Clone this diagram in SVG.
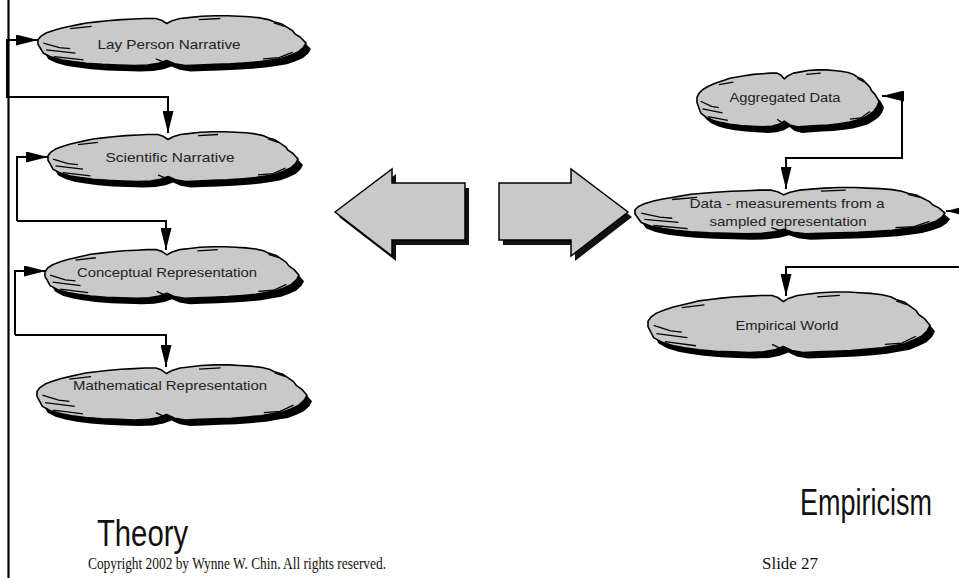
<svg xmlns="http://www.w3.org/2000/svg" xmlns:xlink="http://www.w3.org/1999/xlink" width="959" height="578" viewBox="0 0 959 578">
  <style>
    .lbl { font-family: "Liberation Sans", Arial, sans-serif; font-size: 13px; fill: #222; text-anchor: middle; }
    .title { font-family: "Liberation Sans", Arial, sans-serif; font-size: 36px; fill: #111; }
    .foot { font-family: "Liberation Serif", "Times New Roman", serif; font-size: 16px; fill: #111; }
    .conn { fill: none; stroke: #000; stroke-width: 2; }
    .big { fill: #c9c9c9; stroke: #000; stroke-width: 1.5; stroke-linejoin: miter; }
    .bigshade { fill: #111; }
  </style>
  <defs>
    <!-- ragged cloud outline in a 100x100 box, stretched per node -->
    <path id="cloud-edge" vector-effect="non-scaling-stroke"
      d="M0,46 L1,40 L3,34 L6,29 L9,25 L12,22 L15,19 L18,16 L22,14 L26,12 L31,10 L36,9 L40,8 L44,8 L46,11 L48,17 L50,12 L53,8 L57,6 L61,4 L66,3 L71,3 L75,4 L79,5 L83,7 L86,10 L88,14 L91,18 L93,24 L95,30 L96,36 L98,42 L100,52 L99,60 L97,68 L94,74 L91,79 L87,82 L83,85 L78,87 L72,89 L66,90 L60,91 L55,92 L51,89 L48,83 L45,88 L41,91 L36,92 L30,91 L24,90 L18,88 L13,85 L9,82 L5,77 L2,70 L1,62 L0,54 Z"/>
    <symbol id="cloud" viewBox="0 0 100 100" preserveAspectRatio="none" overflow="visible">
      <use xlink:href="#cloud-edge" fill="#c9c9c9" stroke="#000" stroke-width="1.6" stroke-linejoin="round"/>
      <path vector-effect="non-scaling-stroke" fill="none" stroke="#000" stroke-width="1.3"
        d="M12,26 L20,22 M2,52 L8,60 L12,62 M3,64 L14,70 M6,76 L17,82 M44,80 L49,90 M84,80 L90,78 L95,68 M88,16 L92,22 M60,10 L68,8"/>
    </symbol>
    <symbol id="cloud-shade" viewBox="0 0 100 100" preserveAspectRatio="none" overflow="visible">
      <use xlink:href="#cloud-edge" fill="#000"/>
    </symbol>
    <marker id="head" markerUnits="userSpaceOnUse" markerWidth="22" markerHeight="11" refX="22" refY="5.5" orient="auto">
      <path d="M0,0 L22,5.5 L0,11 Z" fill="#000"/>
    </marker>
  </defs>

  <!-- connectors -->
  <g id="connectors">
    <line x1="8.5" y1="0" x2="8.5" y2="578" stroke="#000" stroke-width="2.2"/>
    <polyline class="conn" points="36,40 7,40 7,97 168,97 168,133" marker-end="url(#head)"/>
    <line class="conn" x1="7" y1="40" x2="38" y2="40" marker-end="url(#head)"/>
    <polyline class="conn" points="17,221 17,157 48,157" marker-end="url(#head)"/>
    <polyline class="conn" points="17,221 166,221 166,250" marker-end="url(#head)"/>
    <polyline class="conn" points="15,335 15,271 46,271" marker-end="url(#head)"/>
    <polyline class="conn" points="15,335 166,335 166,367" marker-end="url(#head)"/>
    <polyline class="conn" points="786,158 902,158 902,96 882,96" marker-end="url(#head)"/>
    <polyline class="conn" points="902,158 786,158 786,189" marker-end="url(#head)"/>
    <line class="conn" x1="962" y1="211" x2="946" y2="211" marker-end="url(#head)"/>
    <polyline class="conn" points="959,267 786,267 786,296" marker-end="url(#head)"/>
  </g>

  <!-- theory side -->
  <g id="lay-person">
    <use xlink:href="#cloud-shade" x="43" y="20" width="268" height="56"/>
    <use xlink:href="#cloud" x="38" y="14" width="268" height="56"/>
    <text class="lbl" x="169" y="49" textLength="143" lengthAdjust="spacingAndGlyphs">Lay Person Narrative</text>
  </g>
  <g id="scientific">
    <use xlink:href="#cloud-shade" x="53" y="136" width="250" height="56"/>
    <use xlink:href="#cloud" x="48" y="130" width="250" height="56"/>
    <text class="lbl" x="170" y="162" textLength="129" lengthAdjust="spacingAndGlyphs">Scientific Narrative</text>
  </g>
  <g id="conceptual">
    <use xlink:href="#cloud-shade" x="50" y="251" width="254" height="58"/>
    <use xlink:href="#cloud" x="45" y="245" width="254" height="58"/>
    <text class="lbl" x="167" y="277" textLength="180" lengthAdjust="spacingAndGlyphs">Conceptual Representation</text>
  </g>
  <g id="mathematical">
    <use xlink:href="#cloud-shade" x="42" y="369" width="270" height="62"/>
    <use xlink:href="#cloud" x="37" y="363" width="270" height="62"/>
    <text class="lbl" x="170" y="390" textLength="194" lengthAdjust="spacingAndGlyphs">Mathematical  Representation</text>
  </g>

  <!-- central double arrow -->
  <g id="arrow-left">
    <polygon class="bigshade" transform="translate(4,5)" points="335,212 392,169 392,183 465,183 465,240 392,240 392,256"/>
    <polygon class="big" points="335,212 392,169 392,183 465,183 465,240 392,240 392,256"/>
  </g>
  <g id="arrow-right">
    <polygon class="bigshade" transform="translate(4,5)" points="499,183 571,183 571,169 628,212 571,256 571,240 499,240"/>
    <polygon class="big" points="499,183 571,183 571,169 628,212 571,256 571,240 499,240"/>
  </g>

  <!-- empiricism side -->
  <g id="aggregated">
    <use xlink:href="#cloud-shade" x="702" y="74" width="182" height="64"/>
    <use xlink:href="#cloud" x="697" y="68" width="182" height="64"/>
    <text class="lbl" x="785" y="102" textLength="111" lengthAdjust="spacingAndGlyphs">Aggregated  Data</text>
  </g>
  <g id="data">
    <use xlink:href="#cloud-shade" x="640" y="192" width="310" height="52"/>
    <use xlink:href="#cloud" x="635" y="186" width="310" height="52"/>
    <text class="lbl" x="787" y="208" textLength="195" lengthAdjust="spacingAndGlyphs">Data  -  measurements  from  a</text>
    <text class="lbl" x="788" y="226" textLength="157" lengthAdjust="spacingAndGlyphs">sampled  representation</text>
  </g>
  <g id="empirical">
    <use xlink:href="#cloud-shade" x="653" y="296" width="282" height="68"/>
    <use xlink:href="#cloud" x="648" y="290" width="282" height="68"/>
    <text class="lbl" x="787" y="330" textLength="103" lengthAdjust="spacingAndGlyphs">Empirical World</text>
  </g>

  <!-- titles and footer -->
  <text class="title" x="97" y="546" textLength="91" lengthAdjust="spacingAndGlyphs">Theory</text>
  <text class="title" x="800" y="515" textLength="132" lengthAdjust="spacingAndGlyphs">Empiricism</text>
  <text class="foot" x="88" y="569" textLength="298" lengthAdjust="spacingAndGlyphs">Copyright 2002 by Wynne W. Chin. All rights reserved.</text>
  <text class="foot" x="762" y="569" textLength="56" lengthAdjust="spacingAndGlyphs">Slide 27</text>
</svg>
